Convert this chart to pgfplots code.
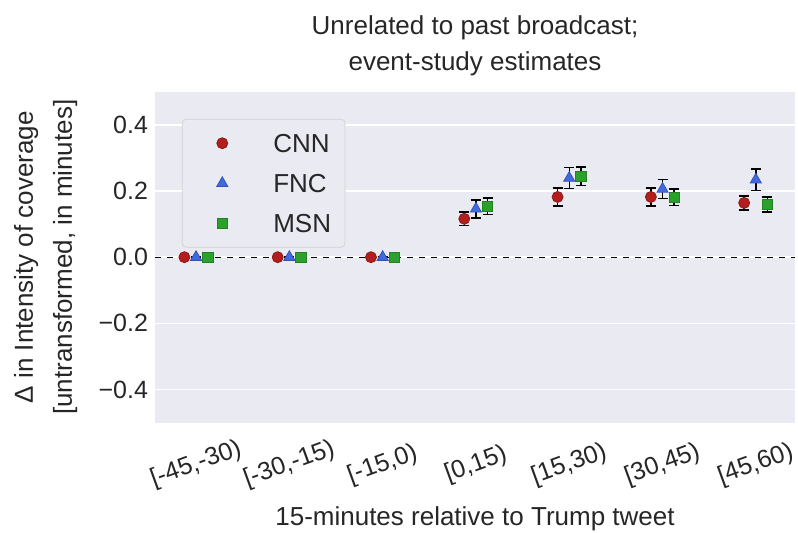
\documentclass[border=0pt]{standalone}
\usepackage{pgfplots}
\pgfplotsset{compat=1.18}
\usepackage{fontspec}
\setmainfont{Liberation Sans}
\definecolor{bgc}{HTML}{EAEAF2}
\definecolor{txt}{HTML}{262626}
\definecolor{cnn}{RGB}{178,30,30}
\definecolor{fnc}{RGB}{65,105,225}
\definecolor{msn}{RGB}{44,160,44}
\newcommand{\lf}{\fontsize{13}{15.6}\selectfont}
\pgfplotsset{mylegend/.style={legend image code/.code={\path[draw=none, fill=none] (0pt,-2pt) rectangle (28pt,2pt); \draw[##1] plot coordinates {(14pt,0pt)};}}}
\begin{document}
\begin{tikzpicture}
\begin{axis}[
  scale only axis,
  width=320pt, height=165.5pt,
  xmin=-0.44, xmax=6.42,
  ymin=-0.5, ymax=0.5,
  axis background/.style={fill=bgc},
  axis line style={draw=none},
  major tick length=0pt,
  ymajorgrids,
  grid style={white, line width=0.8pt},
  ytick={-0.4,-0.2,0,0.2,0.4},
  yticklabels={−0.4,−0.2,0.0,0.2,0.4},
  xtick={0,1,2,3,4,5,6},
  xticklabels={{[-45,-30)},{[-30,-15)},{[-15,0)},{[0,15)},{[15,30)},{[30,45)},{[45,60)}},
  tick label style={font=\fontsize{12.5}{15}\selectfont, text=txt},
  xticklabel style={anchor=center, rotate=20},
  xticklabel shift=21pt,
  legend style={at={(0.042,0.918)}, anchor=north west, fill=bgc, draw=gray!35,
    rounded corners=2pt, inner xsep=6pt, inner ysep=2pt, row sep=0pt, column sep=10.5pt,
    font=\lf, text=txt, nodes={inner xsep=1pt, inner ysep=5pt, text height=9.5pt, text depth=0.5pt}},
  legend cell align=left,
  error bars/y dir=both, error bars/y explicit,
  error bars/error bar style={black, line width=0.7pt},
  error bars/error mark options={black, line width=0.7pt, mark size=2.5pt, rotate=90},
]
\addplot[black, dashed, line width=0.5pt, forget plot] coordinates {(-0.44,0) (6.42,0)};
\addplot[only marks, mylegend, mark=*, mark size=2.75pt, mark options={fill=cnn, draw=cnn!80!black}]
  coordinates {(-0.125,0) +- (0,0) (0.875,0) +- (0,0) (1.875,0) +- (0,0)
  (2.875,0.116) +- (0,0.020) (3.875,0.182) +- (0,0.027) (4.875,0.182) +- (0,0.027) (5.875,0.164) +- (0,0.021)};
\addlegendentry{CNN}
\addplot[only marks, mylegend, mark=triangle*, mark size=3.2pt, mark options={fill=fnc, draw=fnc!80!black}]
  coordinates {(0,0) +- (0,0) (1,0) +- (0,0) (2,0) +- (0,0)
  (3,0.146) +- (0,0.027) (4,0.239) +- (0,0.032) (5,0.206) +- (0,0.028) (6,0.234) +- (0,0.032)};
\addlegendentry{FNC}
\addplot[only marks, mylegend, mark=square*, mark size=2.6pt, mark options={fill=msn, draw=msn!80!black}]
  coordinates {(0.125,0) +- (0,0) (1.125,0) +- (0,0) (2.125,0) +- (0,0)
  (3.125,0.154) +- (0,0.025) (4.125,0.244) +- (0,0.028) (5.125,0.181) +- (0,0.025) (6.125,0.159) +- (0,0.023)};
\addlegendentry{MSN}
\end{axis}
\node[anchor=base, font=\lf, text=txt] at (160pt,193.85pt) {Unrelated to past broadcast;};
\node[anchor=base, font=\lf, text=txt] at (160pt,175.85pt) {event-study estimates};
\node[anchor=base, font=\lf, text=txt, rotate=90] at (-61pt,82.75pt) {Δ in Intensity of coverage};
\node[anchor=base, font=\lf, text=txt, rotate=90] at (-41.5pt,82.75pt) {[untransformed, in minutes]};
\node[anchor=base, font=\lf, text=txt] at (160pt,-51.5pt) {15-minutes relative to Trump tweet};
\pgfresetboundingbox
\path[use as bounding box] (-77.5pt,-55pt) rectangle (321.5pt,211.35pt);
\end{tikzpicture}
\end{document}
